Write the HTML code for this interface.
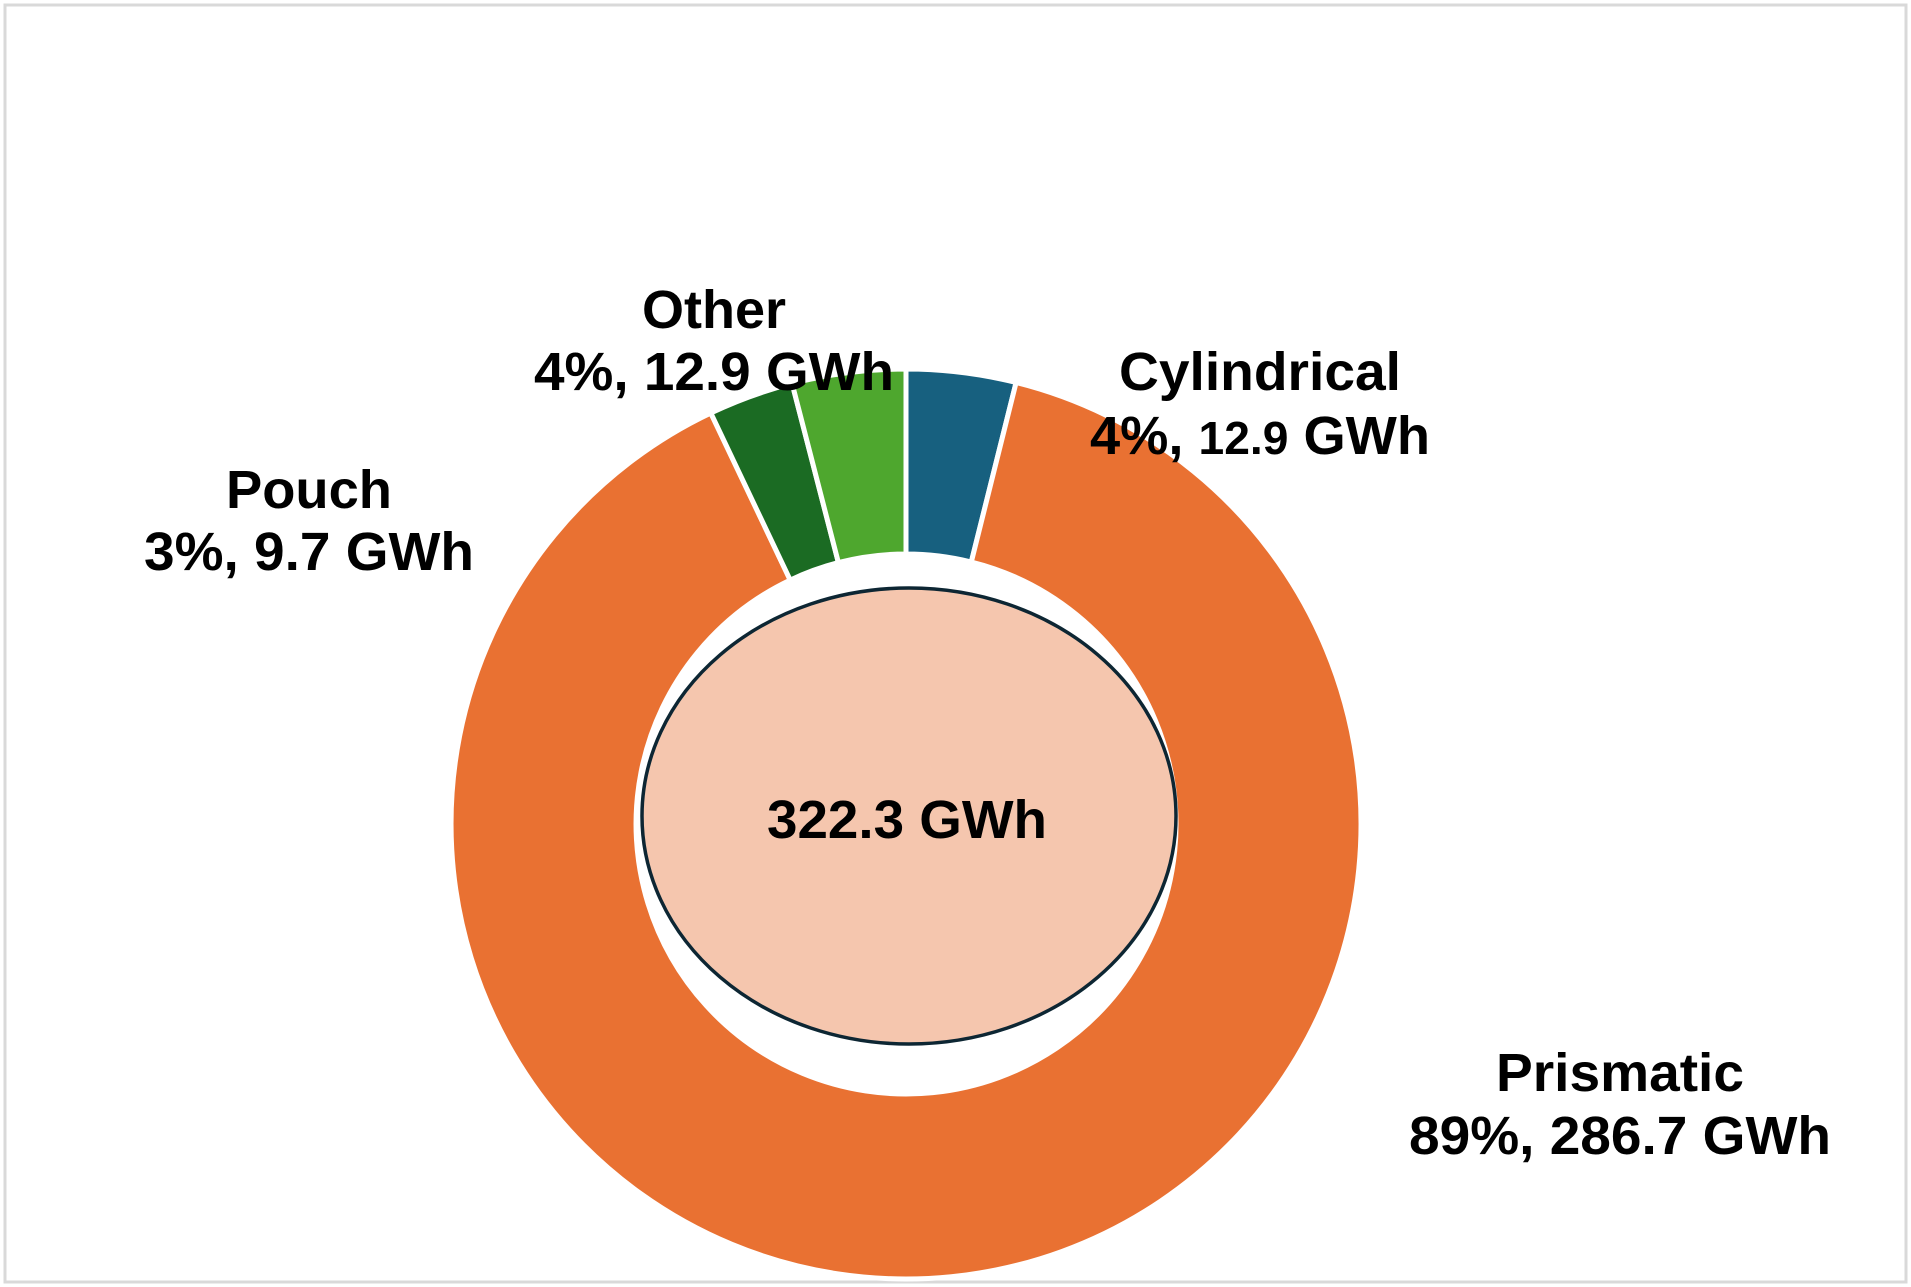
<!DOCTYPE html>
<html><head><meta charset="utf-8"><style>
html,body{margin:0;padding:0;background:#fff;}
svg{display:block;}
text{font-family:"Liberation Sans",Arial,sans-serif;font-weight:bold;fill:#000;text-anchor:middle;}
</style></head><body>
<svg width="1911" height="1287" viewBox="0 0 1911 1287" xmlns="http://www.w3.org/2000/svg">
<rect x="0" y="0" width="1911" height="1287" fill="#fff"/>
<rect x="5" y="5" width="1901" height="1277" fill="none" stroke="#d9d9d9" stroke-width="3"/>
<g transform="translate(906,824)" stroke="#fff" stroke-width="5" stroke-linejoin="round">
  <path d="M0,-455 A455,455 0 0 1 110.1,-441.5 L65.3,-262 A270,270 0 0 0 0,-270 Z" fill="#17607F"/>
  <path d="M110.1,-441.5 A455,455 0 1 1 -195.2,-411 L-115.8,-243.9 A270,270 0 1 0 65.3,-262 Z" fill="#E97132"/>
  <path d="M-195.2,-411 A455,455 0 0 1 -113.9,-440.5 L-67.6,-261.4 A270,270 0 0 0 -115.8,-243.9 Z" fill="#1B6B23"/>
  <path d="M-113.9,-440.5 A455,455 0 0 1 0,-455 L0,-270 A270,270 0 0 0 -67.6,-261.4 Z" fill="#4EA72E"/>
</g>
<ellipse cx="909" cy="816" rx="267" ry="228" fill="#F5C6AE" stroke="#0d2633" stroke-width="3.5"/>
<g font-size="54">
<text x="907" y="838" textLength="280" lengthAdjust="spacingAndGlyphs">322.3 GWh</text>
<text x="714" y="328">Other</text>
<text x="714" y="390" textLength="360" lengthAdjust="spacingAndGlyphs">4%, 12.9 GWh</text>
<text x="1260" y="390" textLength="282" lengthAdjust="spacingAndGlyphs">Cylindrical</text>
<text x="1260" y="454" textLength="340" lengthAdjust="spacingAndGlyphs">4%, <tspan font-size="46">12.9</tspan> GWh</text>
<text x="309" y="508" textLength="166" lengthAdjust="spacingAndGlyphs">Pouch</text>
<text x="309" y="570" textLength="330" lengthAdjust="spacingAndGlyphs">3%, 9.7 GWh</text>
<text x="1620" y="1091" textLength="248" lengthAdjust="spacingAndGlyphs">Prismatic</text>
<text x="1620" y="1154" textLength="422" lengthAdjust="spacingAndGlyphs">89%, 286.7 GWh</text>
</g>
</svg>
</body></html>
